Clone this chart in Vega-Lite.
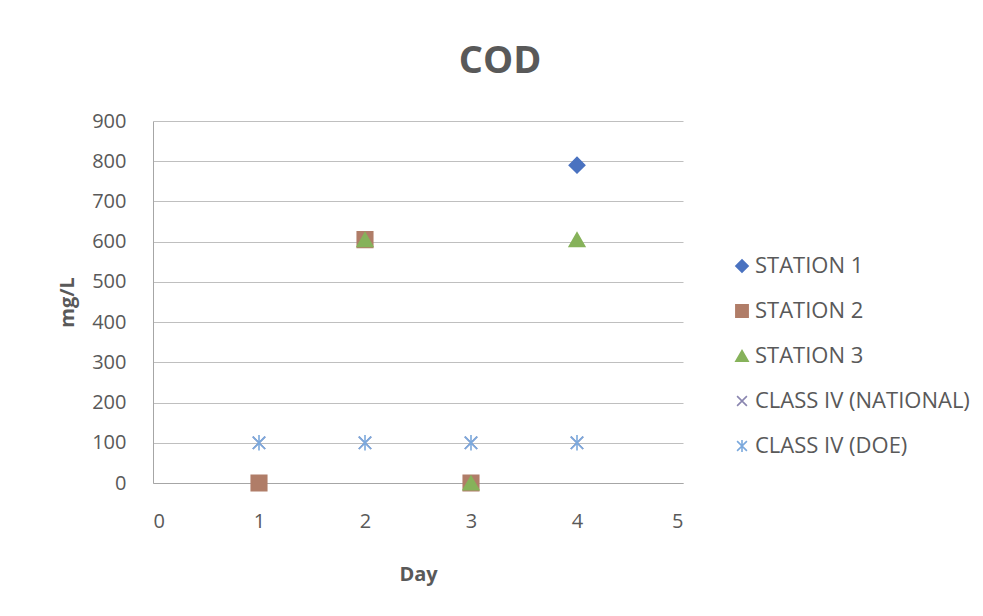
{
  "$schema": "https://vega.github.io/schema/vega-lite/v6.json",
  "autosize": "none",
  "width": 530,
  "height": 362,
  "padding": {"left": 153, "top": 121, "right": 300, "bottom": 133},
  "background": "white",
  "title": {
    "text": "COD",
    "frame": "group",
    "anchor": "middle",
    "dx": 82,
    "offset": 30,
    "fontSize": 38,
    "fontWeight": "bold",
    "font": "Open Sans",
    "color": "#595959"
  },
  "config": {
    "view": {"stroke": null},
    "font": "Open Sans"
  },
  "data": {
    "values": [
      {"day": 4, "cod": 790, "series": "STATION 1"},
      {"day": 1, "cod": 0, "series": "STATION 2"},
      {"day": 2, "cod": 605, "series": "STATION 2"},
      {"day": 3, "cod": 0, "series": "STATION 2"},
      {"day": 2, "cod": 605, "series": "STATION 3"},
      {"day": 3, "cod": 0, "series": "STATION 3"},
      {"day": 4, "cod": 605, "series": "STATION 3"},
      {"day": 1, "cod": 100, "series": "CLASS IV (NATIONAL)"},
      {"day": 2, "cod": 100, "series": "CLASS IV (NATIONAL)"},
      {"day": 3, "cod": 100, "series": "CLASS IV (NATIONAL)"},
      {"day": 4, "cod": 100, "series": "CLASS IV (NATIONAL)"},
      {"day": 1, "cod": 100, "series": "CLASS IV (DOE)"},
      {"day": 2, "cod": 100, "series": "CLASS IV (DOE)"},
      {"day": 3, "cod": 100, "series": "CLASS IV (DOE)"},
      {"day": 4, "cod": 100, "series": "CLASS IV (DOE)"}
    ]
  },
  "mark": {"type": "point", "filled": true, "strokeWidth": 1.6, "opacity": 1, "size": 240},
  "encoding": {
    "x": {
      "field": "day",
      "type": "quantitative",
      "title": "Day",
      "scale": {"domain": [0, 5], "nice": false, "zero": true},
      "axis": {
        "values": [0, 1, 2, 3, 4, 5],
        "grid": false,
        "ticks": false,
        "domainColor": "#A6A6A6",
        "labelFontSize": 20,
        "labelColor": "#595959",
        "labelPadding": 28,
        "titleFontSize": 20,
        "titleFontWeight": "bold",
        "titleColor": "#595959",
        "titlePadding": 33
      }
    },
    "y": {
      "field": "cod",
      "type": "quantitative",
      "title": "mg/L",
      "scale": {"domain": [0, 900], "nice": false},
      "axis": {
        "values": [0, 100, 200, 300, 400, 500, 600, 700, 800, 900],
        "grid": true,
        "gridColor": "#BFBFBF",
        "ticks": false,
        "domainColor": "#A6A6A6",
        "labelFontSize": 20,
        "labelColor": "#595959",
        "labelPadding": 27,
        "titleFontSize": 20,
        "titleFontWeight": "bold",
        "titleColor": "#595959",
        "titlePadding": 14
      }
    },
    "color": {
      "field": "series",
      "type": "nominal",
      "title": null,
      "sort": ["STATION 1", "STATION 2", "STATION 3", "CLASS IV (NATIONAL)", "CLASS IV (DOE)"],
      "scale": {
        "domain": ["STATION 1", "STATION 2", "STATION 3", "CLASS IV (NATIONAL)", "CLASS IV (DOE)"],
        "range": ["#4A72C0", "#B07D68", "#86B25A", "#8A86B0", "#7BA9DD"]
      },
      "legend": {
        "orient": "none",
        "legendX": 578,
        "legendY": 134,
        "labelFontSize": 22,
        "labelColor": "#595959",
        "labelLimit": 400,
        "symbolSize": 150,
        "symbolStrokeWidth": 1.6,
        "rowPadding": 23,
        "labelOffset": 2,
        "padding": 0
      }
    },
    "stroke": {
      "field": "series",
      "type": "nominal",
      "title": null,
      "sort": ["STATION 1", "STATION 2", "STATION 3", "CLASS IV (NATIONAL)", "CLASS IV (DOE)"],
      "scale": {
        "domain": ["STATION 1", "STATION 2", "STATION 3", "CLASS IV (NATIONAL)", "CLASS IV (DOE)"],
        "range": ["#4A72C0", "#B07D68", "#86B25A", "#8A86B0", "#7BA9DD"]
      }
    },
    "shape": {
      "field": "series",
      "type": "nominal",
      "title": null,
      "sort": ["STATION 1", "STATION 2", "STATION 3", "CLASS IV (NATIONAL)", "CLASS IV (DOE)"],
      "scale": {
        "domain": ["STATION 1", "STATION 2", "STATION 3", "CLASS IV (NATIONAL)", "CLASS IV (DOE)"],
        "range": [
          "diamond",
          "square",
          "triangle-up",
          "M-0.8,-0.8L0.8,0.8M0.8,-0.8L-0.8,0.8",
          "M-0.8,-0.8L0.8,0.8M0.8,-0.8L-0.8,0.8M0,-1L0,1"
        ]
      }
    }
  }
}
